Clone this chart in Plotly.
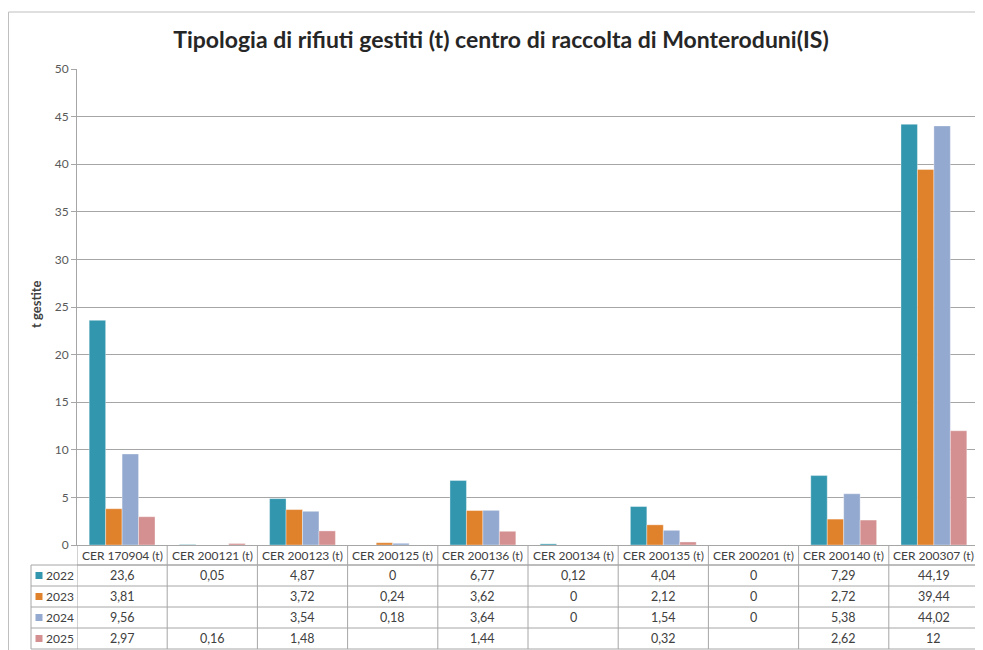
import plotly.graph_objects as go

categories = ["CER 170904 (t)", "CER 200121 (t)", "CER 200123 (t)", "CER 200125 (t)",
              "CER 200136 (t)", "CER 200134 (t)", "CER 200135 (t)", "CER 200201 (t)",
              "CER 200140 (t)", "CER 200307 (t)"]
years = ["2022", "2023", "2024", "2025"]
v2022 = [23.6, 0.05, 4.87, 0, 6.77, 0.12, 4.04, 0, 7.29, 44.19]
v2023 = [3.81, None, 3.72, 0.24, 3.62, 0, 2.12, 0, 2.72, 39.44]
v2024 = [9.56, None, 3.54, 0.18, 3.64, 0, 1.54, 0, 5.38, 44.02]
v2025 = [2.97, 0.16, 1.48, None, 1.44, None, 0.32, None, 2.62, 12]
series = [v2022, v2023, v2024, v2025]
colors = ["#3296AE", "#E0812C", "#93A9CF", "#D49091"]
y_ticks = [0, 5, 10, 15, 20, 25, 30, 35, 40, 45, 50]

FONT = "Lato"
TXT = "#404040"
LINE = "#A6A6A6"

# the page body has an 8px margin: work in page pixels, convert to figure pixels
OFF = 8
W, H = 983 - OFF, 650 - OFF
L, R, T, B = 77 - OFF, 979 - OFF, 69 - OFF, 545 - OFF
pw, ph = R - L, B - T

def px(p):
    return (p - OFF - L) / pw

def py(p):
    return (B - (p - OFF)) / ph

fig = go.Figure()
for yr, vals, c in zip(years, series, colors):
    fig.add_trace(go.Bar(
        x=categories, y=vals, name=yr, marker_color=c,
        marker_line=dict(width=0.6, color="rgba(255,255,255,0.6)"),
        showlegend=False, hoverinfo="x+y+name"))

n = len(categories)
shapes = []
ann = []

# outer chart border
shapes.append(dict(type="rect", xref="paper", yref="paper",
                   x0=px(8.5), x1=px(995), y0=py(12), y1=py(670),
                   line=dict(color="#BFBFBF", width=1), layer="below"))

# table geometry (page pixels)
header_top, header_bot = 545, 565
row_edges = [565, 586, 607, 628, 649]
left_x = 31

for i in range(n + 1):
    xb = i - 0.5
    shapes.append(dict(type="line", xref="x", yref="paper", x0=xb, x1=xb,
                       y0=py(header_top), y1=py(row_edges[-1]),
                       line=dict(color=LINE, width=1)))
shapes.append(dict(type="line", xref="paper", yref="paper", x0=px(left_x), x1=px(left_x),
                   y0=py(row_edges[0]), y1=py(row_edges[-1]), line=dict(color=LINE, width=1)))
shapes.append(dict(type="line", xref="paper", yref="paper", x0=0, x1=1,
                   y0=py(header_bot), y1=py(header_bot), line=dict(color=LINE, width=1)))
for e in row_edges:
    shapes.append(dict(type="line", xref="paper", yref="paper", x0=px(left_x), x1=1,
                       y0=py(e), y1=py(e), line=dict(color=LINE, width=1)))

for i, cat in enumerate(categories):
    ann.append(dict(x=i, y=py((header_top + header_bot) / 2 + 0.5), xref="x", yref="paper",
                    text=cat, showarrow=False, font=dict(family=FONT, size=12, color=TXT),
                    xanchor="center", yanchor="middle"))

def fmt(v):
    if v is None:
        return ""
    return f"{v:g}".replace(".", ",")

for r, (yr, vals, c) in enumerate(zip(years, series, colors)):
    yc = (row_edges[r] + row_edges[r + 1]) / 2
    shapes.append(dict(type="rect", xref="paper", yref="paper",
                       x0=px(35.5), x1=px(42.5), y0=py(yc - 3.5), y1=py(yc + 3.5),
                       fillcolor=c, line=dict(width=0)))
    ann.append(dict(x=px(44), y=py(yc), xref="paper", yref="paper", text=yr,
                    showarrow=False, xanchor="left", yanchor="middle",
                    font=dict(family=FONT, size=12, color=TXT)))
    for i, v in enumerate(vals):
        t = fmt(v)
        if t:
            ann.append(dict(x=i, y=py(yc), xref="x", yref="paper", text=t,
                            showarrow=False, xanchor="center", yanchor="middle",
                            font=dict(family=FONT, size=12.5, color=TXT)))

ann.append(dict(x=px(36), y=py(304), xref="paper", yref="paper",
                text="<b>t gestite</b>", textangle=-90, showarrow=False,
                font=dict(family=FONT, size=13, color=TXT),
                xanchor="center", yanchor="middle"))

fig.update_layout(
    width=W, height=H,
    margin=dict(l=L, r=W - R, t=T, b=H - B),
    paper_bgcolor="white", plot_bgcolor="white",
    barmode="group", bargap=0.27, bargroupgap=0,
    title=dict(text="<b>Tipologia di rifiuti gestiti (t) centro di raccolta di Monteroduni(IS)</b>",
               x=(501 - OFF) / W, xanchor="center", y=1 - (40 - OFF) / H, yanchor="middle",
               font=dict(family=FONT, size=23, color="#262626")),
    xaxis=dict(showticklabels=False, ticks="", showgrid=False, showline=True,
               linecolor=LINE, linewidth=1, range=[-0.5, n - 0.5], fixedrange=True),
    yaxis=dict(range=[0, 50], tickvals=y_ticks, showgrid=True, gridcolor=LINE,
               gridwidth=1, showline=True, linecolor=LINE, linewidth=1,
               ticks="outside", ticklen=5, tickcolor=LINE,
               tickfont=dict(family=FONT, size=12, color="#595959"), zeroline=False),
    shapes=shapes, annotations=ann,
)

fig.write_html("out.html")
